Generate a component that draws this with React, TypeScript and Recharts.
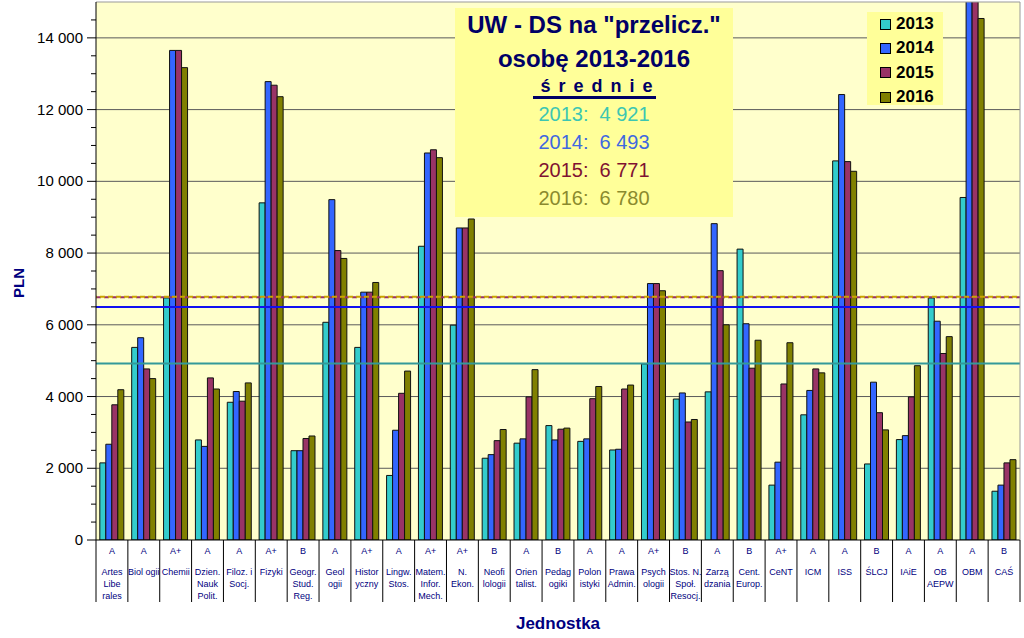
import React from "react";
import {
    ComposedChart,
    Bar,
    XAxis,
    YAxis,
    CartesianGrid,
    ReferenceLine,
    Legend,
} from "recharts";

const units = [
    "Artes\nLibe\nrales", "Biol ogii", "Chemii", "Dzien.\nNauk\nPolit.", "Filoz. i\nSocj.",
    "Fizyki", "Geogr.\nStud.\nReg.", "Geol\nogii", "Histor\nyczny", "Lingw.\nStos.",
    "Matem.\nInfor.\nMech.", "N.\nEkon.", "Neofi\nlologii", "Orien\ntalist.", "Pedag\nogiki",
    "Polon\nistyki", "Prawa\nAdmin.", "Psych\nologii", "Stos. N.\nSpoł.\nResocj.", "Zarzą\ndzania",
    "Cent.\nEurop.", "CeNT", "ICM", "ISS", "ŚLCJ",
    "IAiE", "OB\nAEPW", "OBM", "CAŚ",
];

const ratings = [
    "A", "A", "A+", "A", "A", "A+", "B", "A", "A+", "A",
    "A+", "A+", "B", "A", "B", "A", "A", "A+", "B", "A",
    "B", "A+", "A", "A", "B", "A", "A", "A", "B",
];

const v2013 = [2150, 5370, 6750, 2790, 3840, 9400, 2490, 6070, 5370, 1800, 8190, 5990, 2280, 2700, 3190, 2750, 2510, 4910, 3930, 4130, 8110, 1530, 3490, 10570, 2120, 2800, 6750, 9550, 1360];
const v2014 = [2670, 5640, 13650, 2610, 4140, 12780, 2490, 9490, 6910, 3060, 10790, 8700, 2380, 2820, 2790, 2820, 2530, 7150, 4100, 8820, 6030, 2170, 4170, 12420, 4400, 2910, 6100, 17000, 1530];
const v2015 = [3770, 4770, 13650, 4520, 3870, 12680, 2830, 8070, 6910, 4090, 10880, 8700, 2770, 3990, 3090, 3940, 4210, 7150, 3290, 7510, 4790, 4350, 4770, 10550, 3550, 3990, 5200, 16500, 2150];
const v2016 = [4190, 4500, 13170, 4210, 4380, 12360, 2900, 7850, 7180, 4710, 10660, 8950, 3080, 4750, 3120, 4280, 4320, 6950, 3360, 6000, 5570, 5500, 4660, 10280, 3070, 4860, 5670, 14540, 2240];

const years = ["2013", "2014", "2015", "2016"];
const yearColors = ["#33CCCC", "#3366FF", "#993366", "#808000"];
const averages = [4921, 6493, 6771, 6780];
const averageTextColors = ["#3CC6B2", "#3F68E0", "#7F1232", "#8A8A2E"];

const majorTicks = [0, 2000, 4000, 6000, 8000, 10000, 12000, 14000];
const allTicks = [
    0, 500, 1000, 1500, 2000, 2500, 3000, 3500, 4000, 4500, 5000, 5500, 6000, 6500, 7000,
    7500, 8000, 8500, 9000, 9500, 10000, 10500, 11000, 11500, 12000, 12500, 13000, 13500, 14000, 14500,
];
const gridValues = [2000, 4000, 6000, 8000, 10000, 12000, 14000];

const data = units.map((unit, i) => ({
    unit,
    y2013: v2013[i],
    y2014: v2014[i],
    y2015: v2015[i],
    y2016: v2016[i],
}));

const W = 1024;
const H = 638;
const PLOT_LEFT = 96;
const PLOT_RIGHT = 1020;
const BAND = (PLOT_RIGHT - PLOT_LEFT) / units.length;
const NAVY = "#000080";
const FONT = "'Liberation Sans', Arial, sans-serif";

function fmt(v: number) {
    if (v < 1000) return String(v);
    return `${Math.floor(v / 1000)} ${String(v % 1000).padStart(3, "0")}`;
}

function YTick(props: any) {
    const { x, y, payload } = props;
    const major = majorTicks.includes(payload.value);
    return (
        <g>
            <line x1={x - (major ? 9 : 5)} x2={x} y1={y} y2={y} stroke="#000" />
            {major && (
                <text x={x - 13} y={y} dy={5} textAnchor="end" fontSize={15} fill="#000" fontFamily={FONT}>
                    {fmt(payload.value)}
                </text>
            )}
        </g>
    );
}

function UnitTick(props: any) {
    const { x, y, payload } = props;
    const i = units.indexOf(payload.value);
    const lines = String(payload.value).split("\n");
    const left = x - BAND / 2;
    const right = x + BAND / 2;
    return (
        <g fontFamily={FONT} fill={NAVY} fontSize={9}>
            <line x1={left} x2={left} y1={y} y2={y + 62} stroke="#000" />
            {i === units.length - 1 && <line x1={right} x2={right} y1={y} y2={y + 62} stroke="#000" />}
            <text x={x} y={y + 14} textAnchor="middle">{ratings[i]}</text>
            {lines.map((l, k) => (
                <text key={k} x={x} y={y + 34.5 + k * 12} textAnchor="middle">{l}</text>
            ))}
        </g>
    );
}

function LegendBox(props: any) {
    const items = props.payload || [];
    return (
        <div style={{ background: "#FFFF99", width: 76, height: 93, padding: "0 0 0 13px", boxSizing: "border-box", fontFamily: FONT }}>
            {items.map((it: any) => (
                <div key={it.value} style={{ display: "flex", alignItems: "center", height: 24.3, fontSize: 17, fontWeight: "bold", color: "#000" }}>
                    <span style={{ display: "inline-block", width: 9, height: 9, background: it.color, border: "1px solid #000", marginRight: 5 }} />
                    {it.value}
                </div>
            ))}
        </div>
    );
}

export default function App() {
    return (
        <div style={{ position: "absolute", left: 0, top: 0, width: W, height: H, background: "#fff", fontFamily: FONT }}>
            <ComposedChart
                width={W}
                height={H}
                data={data}
                margin={{ top: 2, right: 0, left: 36, bottom: 33 }}
                barGap={0}
                barCategoryGap="12%"
            >
                <CartesianGrid
                    fill="#FFFFCC"
                    vertical={false}
                    horizontalValues={gridValues}
                    stroke="#5a5a5a"
                    strokeOpacity={1}
                />
                <XAxis
                    dataKey="unit"
                    interval={0}
                    height={65}
                    tickSize={0}
                    tickMargin={0}
                    tickLine={false}
                    axisLine={{ stroke: "#000" }}
                    tick={<UnitTick />}
                />
                <YAxis
                    width={60}
                    domain={[0, 15000]}
                    allowDataOverflow
                    ticks={allTicks}
                    interval={0}
                    tickSize={0}
                    tickMargin={0}
                    tickLine={false}
                    axisLine={{ stroke: "#000" }}
                    tick={<YTick />}
                />
                <YAxis
                    yAxisId="frame"
                    orientation="right"
                    width={4}
                    domain={[0, 1]}
                    tick={false}
                    tickLine={false}
                    axisLine={{ stroke: "#999999" }}
                />
                <Legend
                    layout="vertical"
                    align="center"
                    verticalAlign="middle"
                    content={<LegendBox />}
                    wrapperStyle={{ left: 867, top: 12, width: 76, height: 93 }}
                />
                {years.map((yr, i) => (
                    <Bar
                        key={yr}
                        dataKey={`y${yr}`}
                        name={yr}
                        fill={yearColors[i]}
                        stroke="#111"
                        strokeWidth={1}
                        isAnimationActive={false}
                    />
                ))}
                <ReferenceLine y={15000} stroke="#999999" />
                <ReferenceLine y={averages[0]} stroke="#339999" strokeWidth={2} />
                <ReferenceLine y={averages[1]} stroke="#1010F0" strokeWidth={2} />
                <ReferenceLine y={averages[2]} stroke="#993366" strokeWidth={2} strokeDasharray="5 3" />
                <ReferenceLine y={averages[3]} stroke="#C9A400" strokeWidth={2} strokeDasharray="5 3" strokeDashoffset={4} />
            </ComposedChart>

            <div
                style={{
                    position: "absolute",
                    left: 455,
                    top: 8,
                    width: 278,
                    height: 209,
                    background: "#FFFF99",
                    textAlign: "center",
                    fontFamily: FONT,
                }}
            >
                <div style={{ fontSize: 24, fontWeight: "bold", color: "#000066", lineHeight: "34px" }}>
                    UW - DS na "przelicz."
                    <br />
                    osobę 2013-2016
                </div>
                <div style={{ height: 24, lineHeight: "20px" }}>
                    <span
                        style={{
                            display: "inline-block",
                            fontSize: 18,
                            fontWeight: "bold",
                            color: "#000066",
                            letterSpacing: "8px",
                            borderBottom: "3px solid #000066",
                            padding: "0 0 0 8px",
                            width: 123,
                            boxSizing: "border-box",
                        }}
                    >
                        średnie
                    </span>
                </div>
                {years.map((yr, i) => (
                    <div key={yr} style={{ fontSize: 20, lineHeight: "28px", color: averageTextColors[i], whiteSpace: "pre" }}>
                        {`${yr}:  ${fmt(averages[i])}`}
                    </div>
                ))}
            </div>

            <div
                style={{
                    position: "absolute",
                    left: 18,
                    top: 283,
                    transform: "translate(-50%, -50%) rotate(-90deg)",
                    fontSize: 15,
                    fontWeight: "bold",
                    color: NAVY,
                }}
            >
                PLN
            </div>
            <div
                style={{
                    position: "absolute",
                    left: 558,
                    top: 624,
                    transform: "translate(-50%, -50%)",
                    fontSize: 17,
                    fontWeight: "bold",
                    color: NAVY,
                }}
            >
                Jednostka
            </div>
        </div>
    );
}
